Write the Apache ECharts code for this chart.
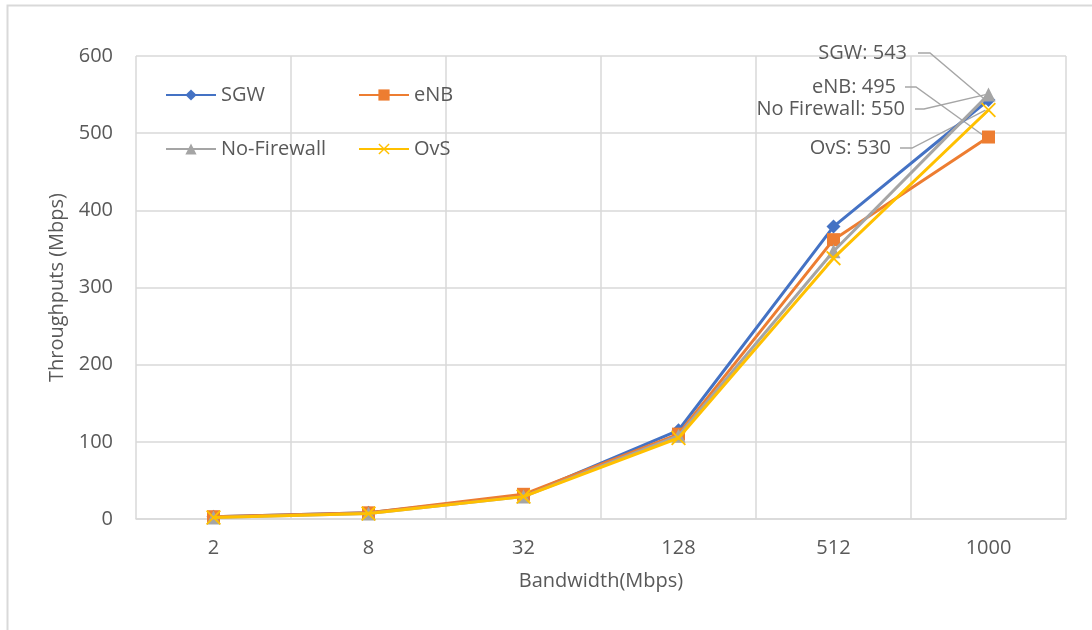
<!DOCTYPE html>
<html>
<head>
<meta charset="utf-8">
<title>Throughput vs Bandwidth</title>
<script src="https://cdn.jsdelivr.net/npm/echarts@6/dist/echarts.min.js"></script>
<style>
  html, body { margin: 0; padding: 0; background: #ffffff; }
  #chart { width: 1092px; height: 630px; }
</style>
</head>
<body>
<div id="chart"></div>
<script>
// Offered bandwidth (Mbps) on the category axis
const bandwidths = ['2', '8', '32', '128', '512', '1000'];

// Measured throughput (Mbps) per setup
const sgwValues        = [3, 8, 30, 115, 379, 543];
const enbValues        = [3, 8, 32, 110, 362, 495];
const noFirewallValues = [2, 7, 29, 108, 347, 550];
const ovsValues        = [2, 7, 29, 105, 338, 530];

const seriesNames = ['SGW', 'eNB', 'No-Firewall', 'OvS'];
// Text used in the callouts at the last point
const calloutNames = ['SGW', 'eNB', 'No Firewall', 'OvS'];

const yTicks = [0, 100, 200, 300, 400, 500, 600];

const TEXT = '#595959';
const GRID = '#d9d9d9';
const LEADER = '#a6a6a6';
const FONT = '"Open Sans", "Liberation Sans", sans-serif';
const FS = 20;

const colors = ['#4472C4', '#ED7D31', '#A5A5A5', '#FFC000'];
const xMark = 'path://M0,1.4 L1.4,0 L8,6.6 L14.6,0 L16,1.4 L9.4,8 L16,14.6 L14.6,16 L8,9.4 L1.4,16 L0,14.6 L6.6,8 Z';
const symbols = ['diamond', 'rect', 'triangle', xMark];
const symbolSizes = [14, 13, 14, 15];
const valueSets = [sgwValues, enbValues, noFirewallValues, ovsValues];

// Callout placement: right edge x / middle y of the text, and the
// horizontal stub of the leader line that leaves the text
const calloutPos = [
  { x: 907, y: 53,  stub: [918, 930] },
  { x: 896, y: 87,  stub: [905, 916] },
  { x: 905, y: 109, stub: [915, 924] },
  { x: 891, y: 148, stub: [900, 912] }
];

const chart = echarts.init(document.getElementById('chart'), null, { renderer: 'canvas' });

const series = seriesNames.map((name, i) => {
  const vals = valueSets[i];
  return {
    name: name,
    type: 'line',
    data: vals.map((v, j) => {
      if (j !== vals.length - 1) return v;
      return {
        value: v,
        label: {
          show: true,
          formatter: calloutNames[i] + ': ' + v
        }
      };
    }),
    symbol: symbols[i],
    symbolSize: symbolSizes[i],
    showSymbol: true,
    color: colors[i],
    lineStyle: { width: 3, color: colors[i] },
    itemStyle: { color: colors[i] },
    z: 2 + i,
    label: {
      show: false,
      color: TEXT,
      fontFamily: FONT,
      fontSize: FS
    },
    labelLayout: function () {
      const p = calloutPos[i];
      return { x: p.x, y: p.y, align: 'right', verticalAlign: 'middle' };
    },
    emphasis: { disabled: true },
    animation: false
  };
});

// Legend laid out as a 2 x 2 block inside the plot
const legendSlots = [
  { left: 165, top: 85 },
  { left: 358, top: 85 },
  { left: 165, top: 139 },
  { left: 358, top: 139 }
];
const legends = seriesNames.map((name, i) => ({
  data: [name],
  left: legendSlots[i].left,
  top: legendSlots[i].top,
  padding: 0,
  itemWidth: 50,
  itemHeight: 14,
  itemGap: 0,
  textStyle: { color: TEXT, fontFamily: FONT, fontSize: FS, padding: [0, 0, 0, 0] },
  selectedMode: false
}));

chart.setOption({
  backgroundColor: '#ffffff',
  animation: false,
  legend: legends,
  grid: { left: 136, right: 26, top: 56, bottom: 111, containLabel: false },
  xAxis: {
    type: 'category',
    data: bandwidths,
    boundaryGap: true,
    name: 'Bandwidth(Mbps)',
    nameLocation: 'middle',
    nameGap: 52,
    nameTextStyle: { color: TEXT, fontFamily: FONT, fontSize: FS },
    axisLine: { show: true, lineStyle: { color: GRID, width: 1.5 } },
    axisTick: { show: false },
    axisLabel: { color: TEXT, fontFamily: FONT, fontSize: FS, margin: 19 },
    splitLine: { show: true, lineStyle: { color: GRID, width: 1.5 } }
  },
  yAxis: {
    type: 'value',
    min: yTicks[0],
    max: yTicks[yTicks.length - 1],
    interval: yTicks[1] - yTicks[0],
    name: 'Throughputs (Mbps)',
    nameLocation: 'middle',
    nameGap: 68,
    nameTextStyle: { color: TEXT, fontFamily: FONT, fontSize: FS },
    axisLine: { show: false },
    axisTick: { show: false },
    axisLabel: { color: TEXT, fontFamily: FONT, fontSize: FS, margin: 23 },
    splitLine: { show: true, lineStyle: { color: GRID, width: 1.5 } }
  },
  series: series
});

// Leader lines from each callout to its last data point, anchored through the axes
const lastIndex = bandwidths.length - 1;
const leaders = seriesNames.map((name, i) => {
  const pt = chart.convertToPixel({ seriesIndex: i }, [lastIndex, valueSets[i][lastIndex]]);
  const p = calloutPos[i];
  return {
    type: 'polyline',
    shape: { points: [[p.stub[0], p.y], [p.stub[1], p.y], [pt[0] - 3, pt[1]]] },
    style: { stroke: LEADER, lineWidth: 1.4, fill: 'none' },
    silent: true,
    z: 1
  };
});

chart.setOption({
  graphic: [{
    type: 'rect',
    shape: { x: 7.5, y: 5.5, width: 1200, height: 800 },
    style: { fill: 'none', stroke: GRID, lineWidth: 2 },
    silent: true,
    z: -10
  }].concat(leaders)
});
</script>
</body>
</html>
